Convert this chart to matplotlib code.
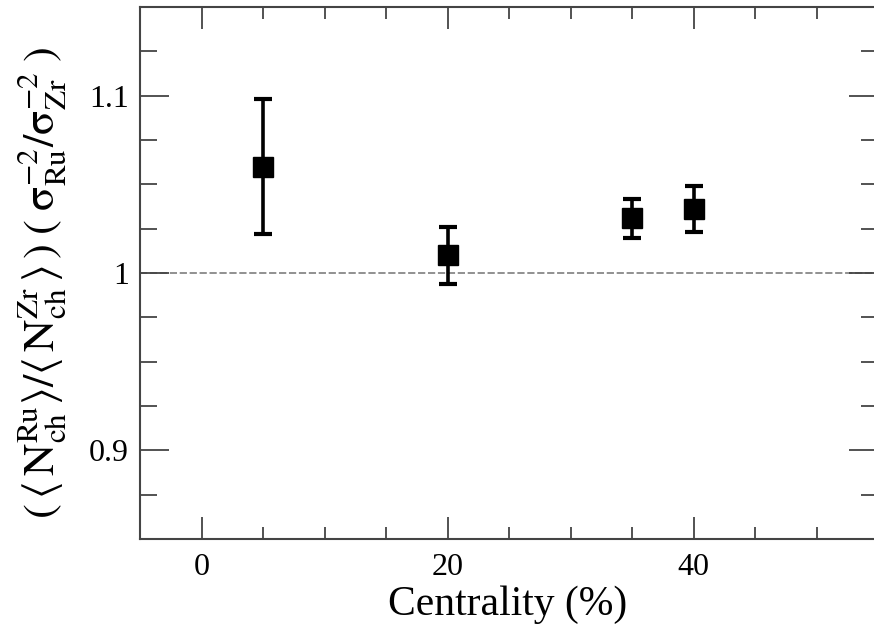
import matplotlib
matplotlib.use("Agg")
import matplotlib.pyplot as plt
from matplotlib.ticker import MultipleLocator

# ratio of multiplicities times width ratio vs centrality
centrality = [5, 20, 35, 40]
ratio = [1.060, 1.010, 1.031, 1.036]
ratio_err = [0.038, 0.016, 0.011, 0.013]

plt.rcParams['font.family'] = ['Liberation Serif', 'DejaVu Serif']
plt.rcParams['mathtext.fontset'] = 'stix'

W, H = 874, 627
fig = plt.figure(figsize=(W / 100, H / 100), dpi=100)
# right spine sits just outside the cropped picture
ax = fig.add_axes([140 / W, (H - 539) / H, (878 - 140) / W, (539 - 7) / H])

ax.axhline(1.0, color='#888888', lw=1.3, ls=(0, (4, 1.5)), zorder=1)
ax.errorbar(centrality, ratio, yerr=ratio_err, fmt='s', color='black',
            ms=15, elinewidth=2.6, capsize=6.5, capthick=3, zorder=3)

ax.set_xlim(-5, 55)
ax.set_ylim(0.85, 1.15)
ax.xaxis.set_major_locator(MultipleLocator(20))
ax.xaxis.set_minor_locator(MultipleLocator(5))
ax.yaxis.set_major_locator(MultipleLocator(0.1))
ax.yaxis.set_minor_locator(MultipleLocator(0.025))
ax.set_yticks([0.9, 1.0, 1.1])
ax.set_yticklabels(['0.9', '1', '1.1'])

spine_col = '#444444'
for s in ax.spines.values():
    s.set_color(spine_col)
    s.set_linewidth(1.5)
ax.tick_params(axis='both', which='both', direction='in', color=spine_col,
               top=True, right=True, width=1.3, labelsize=23)
ax.tick_params(axis='x', which='major', length=16, pad=10)
ax.tick_params(axis='x', which='minor', length=8.5)
ax.tick_params(axis='y', which='major', length=21, pad=8)
ax.tick_params(axis='y', which='minor', length=12)

# axis titles placed in figure pixels to match the reference layout
fig.text(508 / W, 1 - 605 / H, 'Centrality (%)', fontsize=30,
         ha='center', va='center')
fig.text(42 / W, 1 - 283 / H,
         r'$(\,\langle\,\mathrm{N}_{\mathrm{ch}}^{\mathrm{Ru}}\rangle/\langle\,\mathrm{N}_{\mathrm{ch}}^{\mathrm{Zr}}\,\rangle\,)\;'
         r'(\;\mathrm{σ}_{\mathrm{Ru}}^{-2}/\mathrm{σ}_{\mathrm{Zr}}^{-2}\;)$',
         fontsize=32, rotation=90, ha='center', va='center')

fig.savefig('out.png', dpi=100)
